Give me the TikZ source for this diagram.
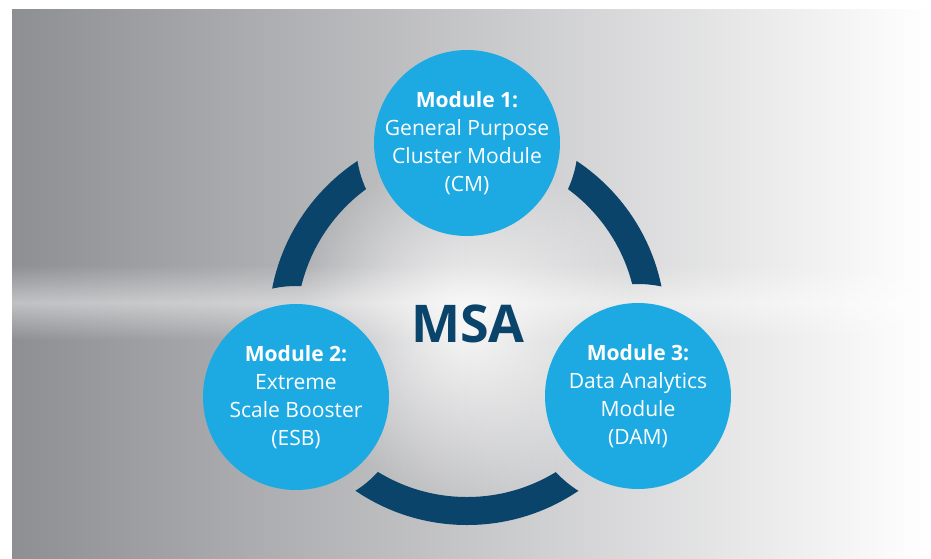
\documentclass[tikz,border=0pt]{standalone}
\usepackage{fontspec}
\setmainfont{Open Sans}
\usetikzlibrary{fadings}

\definecolor{modblue}{RGB}{29,170,226}
\definecolor{ringnavy}{RGB}{10,68,106}
\definecolor{bgleft}{RGB}{142,143,147}
\definecolor{bgmid}{RGB}{206,207,209}

\tikzfading[name=bandfade, top color=transparent!100, bottom color=transparent!100, middle color=transparent!55]
\tikzfading[name=glowfade, inner color=transparent!0, outer color=transparent!100]

\tikzset{
  modcirc/.style={circle, fill=modblue, minimum size=139.5pt, inner sep=0pt},
  modtext/.style={text=white, align=center, font=\fontsize{15.8}{21}\selectfont},
  ringarc/.style={draw=ringnavy, line width=21pt},
}

\begin{document}
\begin{tikzpicture}[x=0.75pt,y=0.75pt,yscale=-1,xscale=1]
\useasboundingbox (0,0) rectangle (931,558);

%Shape: Rectangle [background]
\shade[left color=bgleft, middle color=bgmid, right color=white] (12,9) rectangle (931,558);
\fill[white, path fading=bandfade] (12,265) rectangle (931,340);
\fill[white, opacity=0.85, path fading=glowfade] (467,326) circle [radius=170];

%Shape: Circle [modules]
\coordinate (hub) at (467,326.5);
\node[modcirc] (cm) at (467,143) {};
\node[modcirc] (esb) at (296,397) {};
\node[modcirc] (dam) at (638,396) {};

%Shape: Ring [cut at the modules]
\begin{scope}[even odd rule]
\clip (0,0) rectangle (931,558)
  (cm.center) circle [radius=111]
  (esb.center) circle [radius=111]
  (dam.center) circle [radius=112];
\draw[ringarc] (hub) circle [radius=184.5];
\end{scope}

% Text Node
\node[modtext] (cmtext) at (cm.center) {\textbf{Module 1:}\\General Purpose\\Cluster Module\\(CM)};
% Text Node
\node[modtext] (esbtext) at (esb.center) {\textbf{Module 2:}\\Extreme\\Scale Booster\\(ESB)};
% Text Node
\node[modtext] (damtext) at (dam.center) {\textbf{Module 3:}\\Data Analytics\\Module\\(DAM)};
% Text Node
\node[text=ringnavy, font=\fontsize{39}{40}\selectfont\bfseries] (msa) at (468,324) {MSA};

\end{tikzpicture}
\end{document}
